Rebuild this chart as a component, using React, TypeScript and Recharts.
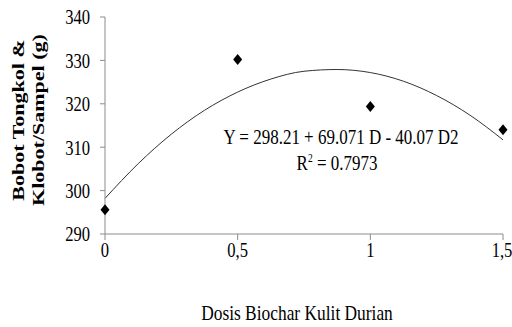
import React from "react";
import { ComposedChart, Line, Scatter, XAxis, YAxis } from "recharts";

// observed values (dose vs weight)
const doses = [0, 0.5, 1, 1.5];
const weights = [295.6, 330.2, 319.4, 314.0];

// fitted curve
const curveDoses = [0, 0.125, 0.25, 0.375, 0.5, 0.625, 0.75, 0.875, 1, 1.125, 1.25, 1.375, 1.5];
const curveWeights = [298.2, 306.2, 313.0, 318.5, 322.7, 325.7, 327.5, 327.9, 327.2, 325.2, 321.9, 317.4, 311.7];

const xTicks = [0, 0.5, 1, 1.5];
const yTicks = [290, 300, 310, 320, 330, 340];

const points = doses.map((d, i) => ({ d, y: weights[i] }));
const curve = curveDoses.map((d, i) => ({ d, y: curveWeights[i] }));

const FONT = "'Liberation Serif', 'Times New Roman', serif";
const SX = 0.79;
const AXIS = "#8c8c8c";

const XTick = (props: any) => {
  const { x, y, payload } = props;
  return (
    <g transform={`translate(${x},${y}) scale(${SX},1)`}>
      <text textAnchor="middle" dy="0.71em" fontFamily={FONT} fontSize={21} fill="#000">
        {String(payload.value).replace(".", ",")}
      </text>
    </g>
  );
};

const YTick = (props: any) => {
  const { x, y, payload } = props;
  return (
    <g transform={`translate(${x},${y}) scale(${SX},1)`}>
      <text textAnchor="end" dy="0.355em" fontFamily={FONT} fontSize={21} fill="#000">
        {payload.value}
      </text>
    </g>
  );
};

const Diamond = (props: any) => {
  const { cx, cy } = props;
  return <polygon points={`${cx},${cy - 5.5} ${cx + 4.5},${cy} ${cx},${cy + 5.5} ${cx - 4.5},${cy}`} fill="#000" />;
};

const txt: React.CSSProperties = {
  position: "absolute",
  fontFamily: FONT,
  fontSize: 21.5,
  color: "#000",
  whiteSpace: "nowrap",
  lineHeight: "normal",
};

export default function App() {
  return (
    <div style={{ position: "absolute", left: 0, top: 0, width: 512, height: 327, background: "#fff", overflow: "hidden" }}>
      <ComposedChart width={512} height={327} margin={{ top: 17, right: 9, left: 0, bottom: 0 }}>
        <XAxis
          dataKey="d"
          type="number"
          domain={[0, 1.5]}
          ticks={xTicks}
          height={93}
          stroke={AXIS}
          tickSize={6}
          tickMargin={2}
          tick={<XTick />}
          allowDuplicatedCategory={false}
        />
        <YAxis
          type="number"
          domain={[290, 340]}
          ticks={yTicks}
          width={105}
          stroke={AXIS}
          tickSize={5}
          tickMargin={10}
          tick={<YTick />}
        />
        <Line
          data={curve}
          dataKey="y"
          type="monotone"
          stroke="#333"
          strokeWidth={1}
          dot={false}
          activeDot={false}
          isAnimationActive={false}
        />
        <Scatter data={points} dataKey="y" shape={<Diamond />} isAnimationActive={false} />
      </ComposedChart>

      {/* y axis title */}
      <div
        style={{
          ...txt,
          left: 28 - 100,
          top: 120 - 25,
          width: 200,
          height: 50,
          fontSize: 22,
          fontWeight: "bold",
          lineHeight: "25px",
          textAlign: "center",
          transform: `rotate(-90deg) scaleY(${SX})`,
        }}
      >
        Bobot Tongkol &amp;
        <br />
        Klobot/Sampel (g)
      </div>

      {/* regression equation */}
      <div style={{ ...txt, left: 341, top: 125, transform: `translate(-50%,0) scaleX(${SX})` }}>
        Y = 298.21 + 69.071 D - 40.07 D2
      </div>
      <div style={{ ...txt, left: 337, top: 151, transform: `translate(-50%,0) scaleX(${SX})` }}>
        R<sup style={{ fontSize: 12, verticalAlign: "8px", lineHeight: 0 }}>2</sup> = 0.7973
      </div>

      {/* x axis title */}
      <div style={{ ...txt, left: 297, top: 300, fontSize: 22, transform: `translate(-50%,0) scaleX(${SX})` }}>
        Dosis Biochar Kulit Durian
      </div>
    </div>
  );
}
